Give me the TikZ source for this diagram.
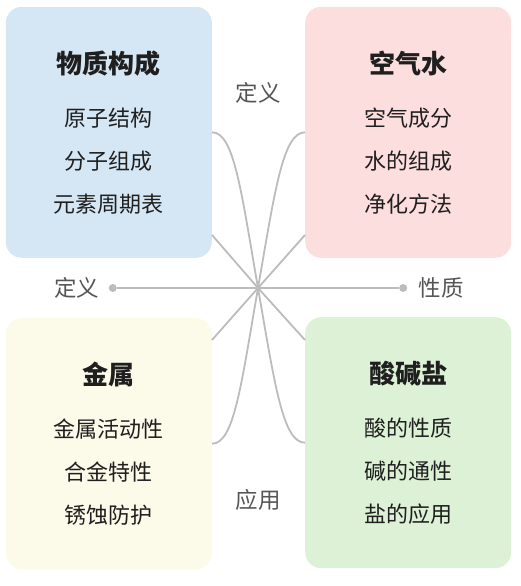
\documentclass[tikz,border=0pt]{standalone}
\usepackage{fontspec}
\setmainfont{Noto Sans CJK SC}
\usetikzlibrary{positioning, calc}

\definecolor{matterblue}{RGB}{213,231,245}
\definecolor{airpink}{RGB}{252,222,222}
\definecolor{metalyellow}{RGB}{252,250,233}
\definecolor{acidgreen}{RGB}{221,241,214}
\definecolor{linkgray}{RGB}{188,188,188}
\definecolor{taggray}{RGB}{85,85,85}

\begin{document}
\begin{tikzpicture}[
        x=1pt, y=1pt,
        topic/.style={rectangle, rounded corners=16pt, minimum width=206pt, minimum height=251pt, inner sep=0pt, align=center, text=black!88, font=\fontsize{22pt}{43pt}\selectfont},
        tag/.style={inner sep=0pt, text=taggray, font=\fontsize{22.5pt}{26pt}\selectfont},
        dotnode/.style={circle, fill=linkgray, inner sep=0pt, minimum size=8pt},
        link/.style={line width=1.8pt, linkgray}
    ]
        \useasboundingbox (0,0) rectangle (521,-586);
        \coordinate (hub) at (258,-288);

        % Topics
        \node[topic, fill=matterblue, above left=30pt and 46pt of hub] (matter) {{\fontsize{26pt}{43pt}\selectfont\bfseries 物质构成}\\[10pt]原子结构\\分子组成\\元素周期表};
        \node[topic, fill=airpink, above right=30pt and 47pt of hub] (airwater) {{\fontsize{26pt}{43pt}\selectfont\bfseries 空气水}\\[10pt]空气成分\\水的组成\\净化方法};
        \node[topic, fill=metalyellow, below left=30pt and 46pt of hub] (metal) {{\fontsize{26pt}{43pt}\selectfont\bfseries 金属}\\[10pt]金属活动性\\合金特性\\锈蚀防护};
        \node[topic, fill=acidgreen, below right=29pt and 47pt of hub] (acidbase) {{\fontsize{26pt}{43pt}\selectfont\bfseries 酸碱盐}\\[10pt]酸的性质\\碱的通性\\盐的应用};

        % Axis with tags
        \node[dotnode, left=141pt of hub] (ldot) {};
        \node[dotnode, right=141pt of hub] (rdot) {};
        \node[tag, left=9pt of ldot] (ldef) {定义};
        \node[tag, right=11pt of rdot] (rprop) {性质};
        \node[tag, above=184pt of hub] (tdef) {定义};
        \node[tag, below=201pt of hub] (bapp) {应用};
        \draw[link] (ldot) -- (rdot);

        % Straight spokes
        \draw[link] ($(matter.south east)+(0,23)$) -- (hub);
        \draw[link] ($(airwater.south west)+(0,23)$) -- (hub);
        \draw[link] ($(metal.north east)+(0,-22)$) -- (hub);
        \draw[link] ($(acidbase.north west)+(0,-23)$) -- (hub);

        % Curved spokes
        \draw[link] (matter.east) .. controls +(22,0) and +(-17,98) .. (hub);
        \draw[link] (airwater.west) .. controls +(-22,0) and +(17,98) .. (hub);
        \draw[link] (metal.east) .. controls +(22,0) and +(-17,-98) .. (hub);
        \draw[link] (acidbase.west) .. controls +(-22,0) and +(17,-98) .. (hub);

    \end{tikzpicture}
\end{document}
